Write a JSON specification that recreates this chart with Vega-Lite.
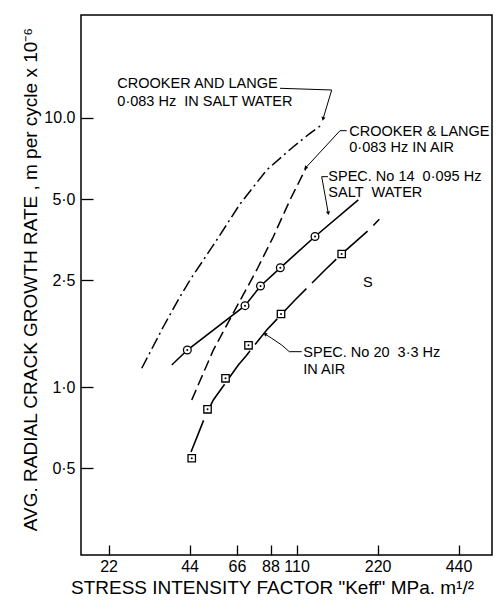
{
  "$schema": "https://vega.github.io/schema/vega-lite/v6.json",
  "width": 411,
  "height": 540,
  "autosize": {"type": "none"},
  "padding": {"left": 81, "top": 15, "right": 9, "bottom": 61},
  "background": "white",
  "config": {
    "view": {"stroke": "black", "strokeWidth": 1.5},
    "font": "Liberation Sans"
  },
  "datasets": {
    "curves": [
      {"series": "cl_salt", "x": 29.23, "y": 1.175},
      {"series": "cl_salt", "x": 35.16, "y": 1.676},
      {"series": "cl_salt", "x": 40.56, "y": 2.167},
      {"series": "cl_salt", "x": 44.19, "y": 2.5},
      {"series": "cl_salt", "x": 55.53, "y": 3.521},
      {"series": "cl_salt", "x": 67.78, "y": 4.791},
      {"series": "cl_salt", "x": 85.18, "y": 6.408},
      {"series": "cl_salt", "x": 106.95, "y": 7.822},
      {"series": "cl_salt", "x": 123.38, "y": 8.773},
      {"series": "cl_salt", "x": 137.91, "y": 9.5},
      {"series": "cl_air", "x": 44.84, "y": 0.896},
      {"series": "cl_air", "x": 53.94, "y": 1.373},
      {"series": "cl_air", "x": 65.89, "y": 1.99},
      {"series": "cl_air", "x": 78.19, "y": 2.724},
      {"series": "cl_air", "x": 90.13, "y": 3.621},
      {"series": "cl_air", "x": 103.97, "y": 4.958},
      {"series": "cl_air", "x": 119.74, "y": 6.575},
      {"series": "spec14", "x": 37.79, "y": 1.208},
      {"series": "spec14", "x": 43.18, "y": 1.373},
      {"series": "spec14", "x": 70.75, "y": 2.007},
      {"series": "spec14", "x": 80.78, "y": 2.375},
      {"series": "spec14", "x": 95.69, "y": 2.775},
      {"series": "spec14", "x": 128.78, "y": 3.628},
      {"series": "spec14", "x": 186.5, "y": 4.958},
      {"series": "spec20", "x": 44.57, "y": 0.574},
      {"series": "spec20", "x": 50.24, "y": 0.776},
      {"series": "spec20", "x": 53.94, "y": 0.896},
      {"series": "spec20", "x": 66.8, "y": 1.208},
      {"series": "spec20", "x": 71.35, "y": 1.305},
      {"series": "spec20", "x": 85.18, "y": 1.63},
      {"series": "spec20", "x": 108.52, "y": 2.107},
      {"series": "spec20", "x": 140.28, "y": 2.724},
      {"series": "spec20", "x": 161.82, "y": 3.123},
      {"series": "spec20", "x": 206.18, "y": 3.868},
      {"series": "spec20", "x": 223.26, "y": 4.203}
    ],
    "points": [
      {"series": "spec14", "x": 43.18, "y": 1.373},
      {"series": "spec14", "x": 70.75, "y": 2.007},
      {"series": "spec14", "x": 80.78, "y": 2.375},
      {"series": "spec14", "x": 95.69, "y": 2.775},
      {"series": "spec14", "x": 128.78, "y": 3.628},
      {"series": "spec20", "x": 44.84, "y": 0.544},
      {"series": "spec20", "x": 51.33, "y": 0.827},
      {"series": "spec20", "x": 59.87, "y": 1.078},
      {"series": "spec20", "x": 72.89, "y": 1.43},
      {"series": "spec20", "x": 96.27, "y": 1.869},
      {"series": "spec20", "x": 161.82, "y": 3.123}
    ],
    "leaders": [
      {"leader": 1, "i": 0, "x": 95.46, "y": 12.894},
      {"leader": 1, "i": 1, "x": 148.56, "y": 12.707},
      {"leader": 1, "i": 2, "x": 137.91, "y": 9.915},
      {"leader": 2, "i": 0, "x": 168.89, "y": 8.97},
      {"leader": 2, "i": 1, "x": 159.5, "y": 8.97},
      {"leader": 2, "i": 2, "x": 118.72, "y": 6.519},
      {"leader": 3, "i": 0, "x": 143.92, "y": 6.052},
      {"leader": 3, "i": 1, "x": 136.38, "y": 6.052},
      {"leader": 3, "i": 2, "x": 144.3, "y": 4.424},
      {"leader": 4, "i": 0, "x": 114.93, "y": 1.354},
      {"leader": 4, "i": 1, "x": 103.35, "y": 1.354},
      {"leader": 4, "i": 2, "x": 96.85, "y": 1.433},
      {"leader": 4, "i": 3, "x": 88.91, "y": 1.518},
      {"leader": 4, "i": 4, "x": 83.95, "y": 1.575}
    ],
    "labels": [
      {"x": 23.72, "y": 13.32, "text": "CROOKER AND LANGE"},
      {"x": 23.72, "y": 11.467, "text": "0·083 Hz\u00a0 IN SALT WATER"},
      {"x": 172.71, "y": 8.833, "text": "CROOKER & LANGE"},
      {"x": 172.71, "y": 7.703, "text": "0·083 Hz IN AIR"},
      {"x": 144.3, "y": 6.036, "text": "SPEC. No 14\u00a0 0·095 Hz"},
      {"x": 144.3, "y": 5.263, "text": "SALT\u00a0 WATER"},
      {"x": 116.51, "y": 1.333, "text": "SPEC. No 20\u00a0 3·3 Hz"},
      {"x": 116.51, "y": 1.158, "text": "IN AIR"},
      {"x": 194.19, "y": 2.437, "text": "S"}
    ]
  },
  "encoding": {
    "x": {
      "field": "x",
      "type": "quantitative",
      "scale": {"type": "log", "domain": [17.38, 585.8], "nice": false},
      "axis": {
        "values": [22, 44, 66, 88, 110, 220, 440],
        "format": "d",
        "title": "STRESS INTENSITY FACTOR \"Keff\"  MPa. m¹/²",
        "domain": false,
        "grid": false,
        "offset": -10,
        "tickSize": 10,
        "tickWidth": 1.3,
        "tickColor": "black",
        "labelFont": "Liberation Sans",
        "labelFontSize": 16,
        "labelColor": "black",
        "labelPadding": 3,
        "labelFlush": false,
        "labelOverlap": false,
        "titleFont": "Liberation Sans",
        "titleFontSize": 19,
        "titleFontWeight": "normal",
        "titleColor": "black",
        "titleX": 191,
        "titleY": 48,
        "titleBaseline": "alphabetic"
      }
    },
    "y": {
      "field": "y",
      "type": "quantitative",
      "scale": {"type": "log", "domain": [0.2377, 24.14], "nice": false},
      "axis": {
        "values": [0.5, 1, 2.5, 5, 10],
        "labelExpr": "datum.value == 10 ? '10.0' : datum.value == 5 ? '5·0' : datum.value == 2.5 ? '2·5' : datum.value == 1 ? '1·0' : '0·5'",
        "title": "AVG. RADIAL CRACK GROWTH RATE , m per cycle x 10⁻⁶",
        "domain": false,
        "grid": false,
        "offset": -12,
        "tickSize": 12,
        "tickWidth": 1.3,
        "tickColor": "black",
        "labelFont": "Liberation Sans",
        "labelFontSize": 16,
        "labelColor": "black",
        "labelPadding": 6,
        "labelOverlap": false,
        "labelFlush": false,
        "titleFont": "Liberation Sans",
        "titleFontSize": 19,
        "titleFontWeight": "normal",
        "titleColor": "black",
        "titleX": -63,
        "titleY": 264,
        "titleBaseline": "middle"
      }
    }
  },
  "layer": [
    {
      "data": {"name": "curves"},
      "transform": [{"filter": "datum.series == 'cl_salt'"}],
      "mark": {"type": "line", "color": "black", "strokeWidth": 1.5, "strokeDash": [12, 4, 2, 4]}
    },
    {
      "data": {"name": "curves"},
      "transform": [{"filter": "datum.series == 'cl_air'"}],
      "mark": {"type": "line", "color": "black", "strokeWidth": 1.5, "strokeDash": [11, 5]}
    },
    {
      "data": {"name": "curves"},
      "transform": [{"filter": "datum.series == 'spec14'"}],
      "mark": {"type": "line", "color": "black", "strokeWidth": 1.6}
    },
    {
      "data": {"name": "curves"},
      "transform": [{"filter": "datum.series == 'spec20'"}],
      "mark": {"type": "line", "color": "black", "strokeWidth": 1.6, "strokeDash": [34, 8]}
    },
    {
      "data": {"name": "leaders"},
      "mark": {"type": "line", "color": "black", "strokeWidth": 1},
      "encoding": {
        "detail": {"field": "leader", "type": "nominal"},
        "order": {"field": "i", "type": "quantitative"}
      }
    },
    {
      "data": {"name": "leaders"},
      "transform": [{"filter": "datum.leader == 1 && datum.i == 2"}],
      "mark": {"type": "point", "shape": "triangle-down", "size": 18, "filled": true, "color": "black", "opacity": 1, "angle": 17}
    },
    {
      "data": {"name": "leaders"},
      "transform": [{"filter": "datum.leader == 2 && datum.i == 2"}],
      "mark": {"type": "point", "shape": "triangle-down", "size": 18, "filled": true, "color": "black", "opacity": 1, "angle": 43}
    },
    {
      "data": {"name": "leaders"},
      "transform": [{"filter": "datum.leader == 3 && datum.i == 2"}],
      "mark": {"type": "point", "shape": "triangle-down", "size": 18, "filled": true, "color": "black", "opacity": 1, "angle": -10}
    },
    {
      "data": {"name": "leaders"},
      "transform": [{"filter": "datum.leader == 4 && datum.i == 4"}],
      "mark": {"type": "point", "shape": "triangle-down", "size": 18, "filled": true, "color": "black", "opacity": 1, "angle": 123}
    },
    {
      "data": {"name": "points"},
      "transform": [{"filter": "datum.series == 'spec14'"}],
      "mark": {"type": "point", "shape": "circle", "size": 60, "filled": true, "fill": "white", "stroke": "black", "strokeWidth": 1.3, "opacity": 1}
    },
    {
      "data": {"name": "points"},
      "transform": [{"filter": "datum.series == 'spec20'"}],
      "mark": {"type": "point", "shape": "square", "size": 55, "filled": true, "fill": "white", "stroke": "black", "strokeWidth": 1.3, "opacity": 1}
    },
    {
      "data": {"name": "points"},
      "mark": {"type": "point", "shape": "circle", "size": 4, "filled": true, "color": "black", "opacity": 1}
    },
    {
      "data": {"name": "labels"},
      "mark": {"type": "text", "align": "left", "baseline": "middle", "font": "Liberation Sans", "fontSize": 14.5, "color": "black"},
      "encoding": {"text": {"field": "text", "type": "nominal"}}
    }
  ]
}
